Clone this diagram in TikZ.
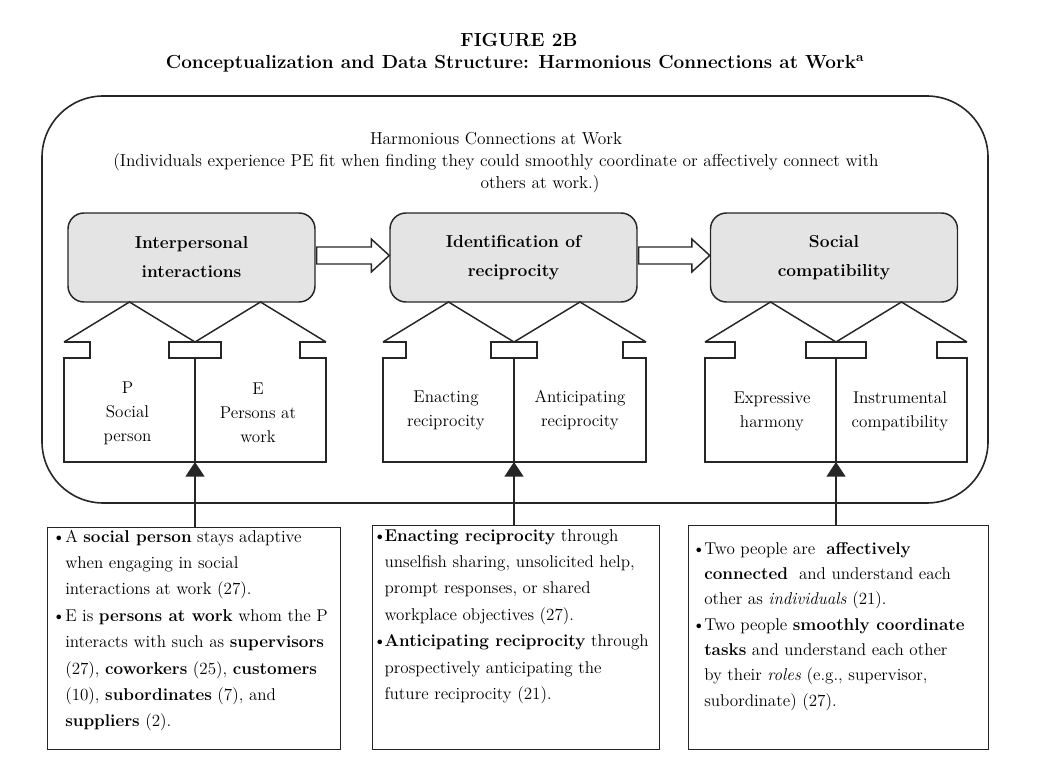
\documentclass[tikz,border=0pt]{standalone}
\usetikzlibrary{arrows.meta,calc}
\definecolor{ln}{HTML}{262626}
\definecolor{gfill}{HTML}{E4E4E4}
\newcommand\housepair[4]{%
  \draw[lw] (#1,342) -- ({(#1+#2)/2},302) -- (#2,342);
  \draw[lw] (#2,342) -- ({(#2+#3)/2},302) -- (#3,342);
  \draw[lw] (#1,342) -- ({#1+#4},342) -- ({#1+#4},358) -- (#1,358) -- (#1,462) -- (#3,462) -- (#3,358) -- ({#3-#4},358) -- ({#3-#4},342) -- (#3,342);
  \draw[lw] ({#2-#4},342) rectangle ({#2+#4},358);
  \draw[lw] (#2,358) -- (#2,462);
}
\newcommand\bul[1]{\noindent\hangindent=#1\hangafter=1\makebox[#1][l]{\textbullet}}
\begin{document}
\begin{tikzpicture}[x=0.75pt,y=-0.75pt,
  lw/.style={draw=ln, line width=1.1pt, line join=miter},
  graybox/.style={draw=ln, line width=1.1pt, fill=gfill, rounded corners=12pt,
    minimum width=185.25pt, minimum height=66.75pt, align=center, inner sep=0pt,
    font=\fontsize{13}{21.75}\selectfont\bfseries},
  housetxt/.style={align=center, inner sep=0pt, font=\fontsize{12.8}{18}\selectfont},
  descbox/.style={draw=ln, line width=1.1pt, anchor=north west, inner sep=0pt},
  desctxt/.style={anchor=base west, inner sep=0pt, font=\fontsize{12.8}{19.8}\selectfont},
  hollow/.style={draw=ln, line width=1.1pt, fill=white, line join=miter},
  feed/.style={draw=ln, line width=1.1pt, -{Triangle[width=14.25pt,length=11pt]}},
  titletxt/.style={inner sep=0pt, font=\fontsize{14.2}{17}\selectfont\bfseries}]
\useasboundingbox (0,0) rectangle (1046,759);

% titles
\node[titletxt] (title) at (519,40) {FIGURE 2B};
\node[titletxt] (subtitle) at (515,64) {Conceptualization and Data Structure: Harmonious Connections at Work\textsuperscript{a}};

% outer frame
\node[draw=ln, line width=1.2pt, rounded corners=46pt, minimum width=709.5pt,
  minimum height=305.25pt, inner sep=0pt] (outer) at (515,299.5) {};

\node[align=center, inner sep=0pt, font=\fontsize{13}{16.5}\selectfont] (hdr) at (496,163)
  {Harmonious Connections at Work\\
   (Individuals experience PE fit when finding they could smoothly coordinate or affectively connect with\\
   \hspace*{66pt}others at work.)};

% gray boxes
\node[graybox] (g1) at (191.5,257.5) {Interpersonal\\interactions};
\node[graybox] (g2) at (513.5,257.5) {Identification of\\reciprocity};
\node[graybox] (g3) at (834,257.5) {Social\\compatibility};

% hollow arrows
\draw[hollow] ($(g1.east)+(1,-10.5)$) -- ($(g2.west)+(-18,-10.5)$) -- ($(g2.west)+(-18,-18.5)$)
  -- ($(g2.west)+(0,-2)$) -- ($(g2.west)+(-18,14.5)$) -- ($(g2.west)+(-18,6.5)$)
  -- ($(g1.east)+(1,6.5)$) -- cycle;
\draw[hollow] ($(g2.east)+(1,-10.5)$) -- ($(g3.west)+(-18,-10.5)$) -- ($(g3.west)+(-18,-18.5)$)
  -- ($(g3.west)+(0,-2)$) -- ($(g3.west)+(-18,14.5)$) -- ($(g3.west)+(-18,6.5)$)
  -- ($(g2.east)+(1,6.5)$) -- cycle;

% house shapes
\housepair{64}{195}{326}{26}
\housepair{383}{514}{646}{23}
\housepair{705}{836}{967}{30}

\node[housetxt] (p1) at (127.5,413) {P\\Social\\person};
\node[housetxt] (e1) at (258,413) {E\\Persons at\\work};
\node[housetxt] (p2) at (446,410.5) {Enacting\\reciprocity};
\node[housetxt] (e2) at (580,410.5) {Anticipating\\reciprocity};
\node[housetxt] (p3) at (772,411.5) {Expressive\\harmony};
\node[housetxt] (e3) at (900,411.5) {Instrumental\\compatibility};

\coordinate (h1) at (195,462);
\coordinate (h2) at (514,462);
\coordinate (h3) at (836,462);

% description boxes
\node[descbox, minimum width=219.75pt, minimum height=166.5pt] (b1) at (47,527) {};
\node[descbox, minimum width=215.25pt, minimum height=168pt] (b2) at (372,525) {};
\node[descbox, minimum width=225pt, minimum height=168pt] (b3) at (688,525) {};

\draw[feed] (b1.north -| h1) -- (h1);
\draw[feed] (b2.north -| h2) -- (h2);
\draw[feed] (b3.north -| h3) -- (h3);

\node[desctxt] (t1) at (52,542) {\parbox[t]{215pt}{%
\bul{9.75pt}A \textbf{social person} stays adaptive\\
when engaging in social\\
interactions at work (27).\par
\bul{9.75pt}E is \textbf{persons at work} whom the P\\
interacts with such as \textbf{supervisors}\\
(27), \textbf{coworkers} (25), \textbf{customers}\\
(10), \textbf{subordinates} (7), and\\
\textbf{suppliers} (2).\par}};

\node[desctxt] (t2) at (373,541) {\parbox[t]{210pt}{%
\bul{8.5pt}\textbf{Enacting reciprocity} through\\
unselfish sharing, unsolicited help,\\
prompt responses, or shared\\
workplace objectives (27).\par
\bul{8.5pt}\textbf{Anticipating reciprocity} through\\
prospectively anticipating the\\
future reciprocity (21).\par}};

\node[desctxt, font=\fontsize{12.8}{19}\selectfont] (t3) at (692,554) {\parbox[t]{220pt}{%
\bul{9pt}Two people are~ \textbf{affectively}\\
\textbf{connected}~ and understand each\\
other as \textit{individuals} (21).\par
\bul{9pt}Two people \textbf{smoothly coordinate}\\
\textbf{tasks} and understand each other\\
by their \textit{roles} (e.g., supervisor,\\
subordinate) (27).\par}};
\end{tikzpicture}
\end{document}
